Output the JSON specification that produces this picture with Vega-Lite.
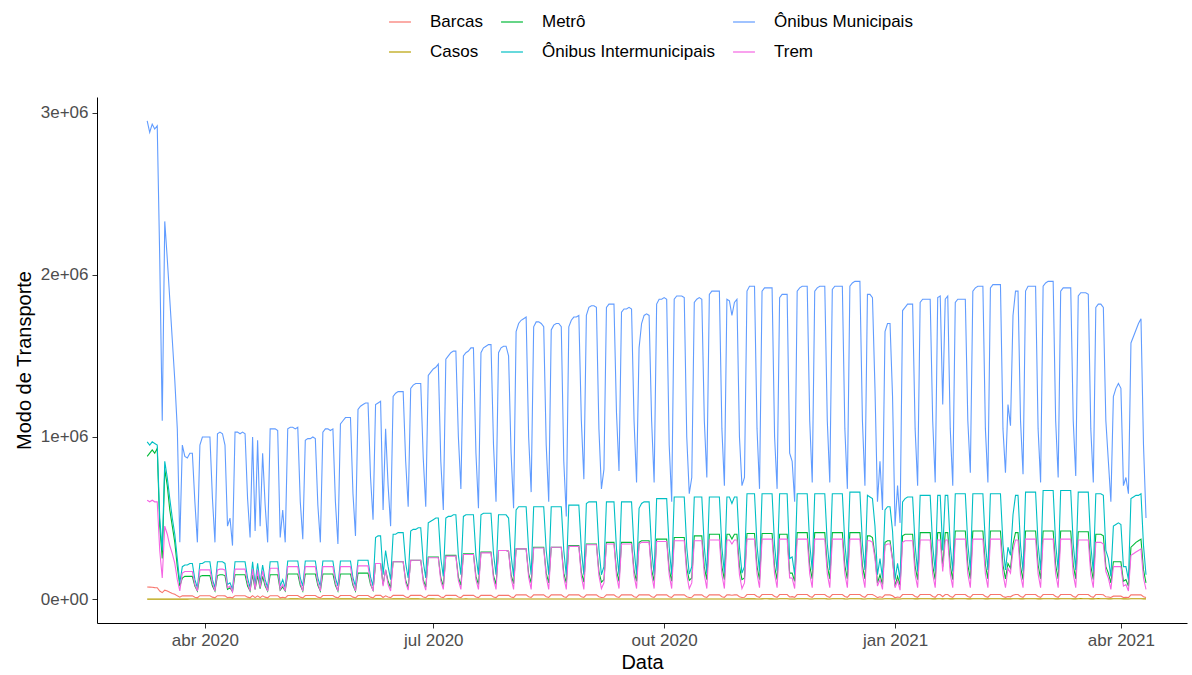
{
"$schema":"https://vega.github.io/schema/vega-lite/v6.json",
"width":1090,"height":526,
"autosize":{"type":"none"},
"padding":{"left":97,"top":97,"right":5,"bottom":52},
"background":"white",
"config":{"font":"Liberation Sans","view":{"stroke":null}},
"data":{"values":[
{"d":"2020-03-09","b":7.5e4,"c":0,"m":8.8e5,"i":9.7e5,"o":2.95e6,"t":6.1e5},
{"d":"2020-03-10","b":7.4e4,"c":0,"m":9.0e5,"i":9.5e5,"o":2.88e6,"t":6.0e5},
{"d":"2020-03-11","b":7.3e4,"c":2,"m":9.2e5,"i":9.7e5,"o":2.93e6,"t":6.1e5},
{"d":"2020-03-12","b":7.1e4,"c":3,"m":9.0e5,"i":9.6e5,"o":2.9e6,"t":6.0e5},
{"d":"2020-03-13","b":7.0e4,"c":5,"m":9.3e5,"i":9.5e5,"o":2.92e6,"t":6.0e5},
{"d":"2020-03-14","b":5.0e4,"c":8,"m":4.5e5,"i":5.0e5,"o":2.1e6,"t":3.0e5},
{"d":"2020-03-15","b":4.0e4,"c":10,"m":2.5e5,"i":3.0e5,"o":1.1e6,"t":1.3e5},
{"d":"2020-03-16","b":5.5e4,"c":15,"m":8.0e5,"i":8.5e5,"o":2.33e6,"t":4.5e5},
{"d":"2020-03-17","b":5.0e4,"c":20,"m":7.0e5,"i":7.5e5,"o":2.1e6,"t":4.0e5},
{"d":"2020-03-18","b":4.2e4,"c":30,"m":5.5e5,"i":6.2e5,"o":1.85e6,"t":3.3e5},
{"d":"2020-03-19","b":3.5e4,"c":40,"m":4.5e5,"i":5.0e5,"o":1.6e6,"t":2.8e5},
{"d":"2020-03-20","b":3.0e4,"c":50,"m":3.5e5,"i":4.0e5,"o":1.35e6,"t":2.2e5},
{"d":"2020-03-21","b":2.0e4,"c":60,"m":2.0e5,"i":2.5e5,"o":1.05e6,"t":1.2e5},
{"d":"2020-03-22","b":1.2e4,"c":70,"m":8e4,"i":1.0e5,"o":3.5e5,"t":5e4},
{"d":"2020-03-23","b":2.0e4,"c":80,"m":1.3e5,"i":2.0e5,"o":9.5e5,"t":1.6e5},
{"d":"2020-03-24","b":2.0e4,"c":90,"m":1.4e5,"i":2.1e5,"o":8.8e5,"t":1.7e5},
{"d":"2020-03-25","b":2.0e4,"c":100,"m":1.4e5,"i":2.1e5,"o":8.7e5,"t":1.7e5},
{"d":"2020-03-26","b":2.0e4,"c":120,"m":1.4e5,"i":2.2e5,"o":9.0e5,"t":1.7e5},
{"d":"2020-03-27","b":2.0e4,"c":130,"m":1.4e5,"i":2.2e5,"o":9.0e5,"t":1.7e5},
{"d":"2020-03-28","b":1.1e4,"c":150,"m":8e4,"i":1.2e5,"o":6.0e5,"t":9e4},
{"d":"2020-03-29","b":8e3,"c":160,"m":5e4,"i":7e4,"o":3.5e5,"t":5e4},
{"d":"2020-03-30","b":2.1e4,"c":180,"m":1.4e5,"i":2.2e5,"o":9.5e5,"t":1.8e5},
{"d":"2020-03-31","b":2.1e4,"c":200,"m":1.45e5,"i":2.2e5,"o":1.0e6,"t":1.8e5},
{"d":"2020-04-01","b":2.1e4,"c":220,"m":1.45e5,"i":2.3e5,"o":1.0e6,"t":1.8e5},
{"d":"2020-04-02","b":2.1e4,"c":250,"m":1.45e5,"i":2.3e5,"o":1.0e6,"t":1.8e5},
{"d":"2020-04-03","b":2.1e4,"c":270,"m":1.45e5,"i":2.3e5,"o":1.0e6,"t":1.8e5},
{"d":"2020-04-04","b":1.2e4,"c":300,"m":8e4,"i":1.2e5,"o":6.2e5,"t":1.0e5},
{"d":"2020-04-05","b":8e3,"c":320,"m":5e4,"i":7e4,"o":3.5e5,"t":5e4},
{"d":"2020-04-06","b":2.1e4,"c":350,"m":1.45e5,"i":2.3e5,"o":1.02e6,"t":1.8e5},
{"d":"2020-04-07","b":2.1e4,"c":380,"m":1.5e5,"i":2.3e5,"o":1.03e6,"t":1.85e5},
{"d":"2020-04-08","b":2.1e4,"c":400,"m":1.5e5,"i":2.3e5,"o":1.02e6,"t":1.85e5},
{"d":"2020-04-09","b":2.0e4,"c":420,"m":1.45e5,"i":2.2e5,"o":9.5e5,"t":1.8e5},
{"d":"2020-04-10","b":9e3,"c":450,"m":6e4,"i":9e4,"o":4.5e5,"t":7e4},
{"d":"2020-04-11","b":1.1e4,"c":470,"m":7e4,"i":1.0e5,"o":5.0e5,"t":8e4},
{"d":"2020-04-12","b":8e3,"c":480,"m":4.5e4,"i":6e4,"o":3.3e5,"t":4.5e4},
{"d":"2020-04-13","b":2.1e4,"c":500,"m":1.5e5,"i":2.3e5,"o":1.03e6,"t":1.85e5},
{"d":"2020-04-14","b":2.1e4,"c":520,"m":1.5e5,"i":2.3e5,"o":1.03e6,"t":1.85e5},
{"d":"2020-04-15","b":2.1e4,"c":550,"m":1.5e5,"i":2.3e5,"o":1.02e6,"t":1.85e5},
{"d":"2020-04-16","b":2.1e4,"c":580,"m":1.5e5,"i":2.3e5,"o":1.03e6,"t":1.85e5},
{"d":"2020-04-17","b":2.1e4,"c":600,"m":1.5e5,"i":2.3e5,"o":1.02e6,"t":1.85e5},
{"d":"2020-04-18","b":1.2e4,"c":620,"m":8e4,"i":1.3e5,"o":6.2e5,"t":1.0e5},
{"d":"2020-04-19","b":8e3,"c":640,"m":5e4,"i":7e4,"o":3.8e5,"t":5e4},
{"d":"2020-04-20","b":2.1e4,"c":660,"m":1.5e5,"i":2.3e5,"o":1.0e6,"t":1.85e5},
{"d":"2020-04-21","b":9e3,"c":680,"m":6e4,"i":9e4,"o":4.2e5,"t":6e4},
{"d":"2020-04-22","b":2.0e4,"c":700,"m":1.45e5,"i":2.2e5,"o":9.8e5,"t":1.8e5},
{"d":"2020-04-23","b":9e3,"c":720,"m":6.5e4,"i":1.0e5,"o":4.5e5,"t":7e4},
{"d":"2020-04-24","b":2.0e4,"c":740,"m":1.4e5,"i":2.1e5,"o":9.0e5,"t":1.75e5},
{"d":"2020-04-25","b":1.2e4,"c":760,"m":8e4,"i":1.2e5,"o":5.8e5,"t":9.5e4},
{"d":"2020-04-26","b":8e3,"c":780,"m":5e4,"i":7e4,"o":3.5e5,"t":5e4},
{"d":"2020-04-27","b":2.1e4,"c":800,"m":1.5e5,"i":2.3e5,"o":1.05e6,"t":1.9e5},
{"d":"2020-04-28","b":2.1e4,"c":820,"m":1.5e5,"i":2.3e5,"o":1.05e6,"t":1.9e5},
{"d":"2020-04-29","b":2.1e4,"c":850,"m":1.5e5,"i":2.3e5,"o":1.05e6,"t":1.9e5},
{"d":"2020-04-30","b":2.1e4,"c":870,"m":1.5e5,"i":2.3e5,"o":1.04e6,"t":1.9e5},
{"d":"2020-05-01","b":8e3,"c":900,"m":5.5e4,"i":8e4,"o":3.8e5,"t":6e4},
{"d":"2020-05-02","b":1.1e4,"c":920,"m":7.5e4,"i":1.2e5,"o":5.5e5,"t":9e4},
{"d":"2020-05-03","b":8e3,"c":940,"m":5e4,"i":7e4,"o":3.5e5,"t":5e4},
{"d":"2020-05-04","b":2.2e4,"c":1000,"m":1.55e5,"i":2.35e5,"o":1.05e6,"t":2.0e5},
{"d":"2020-05-05","b":2.2e4,"c":1100,"m":1.55e5,"i":2.35e5,"o":1.06e6,"t":2.0e5},
{"d":"2020-05-06","b":2.2e4,"c":1200,"m":1.55e5,"i":2.35e5,"o":1.06e6,"t":2.0e5},
{"d":"2020-05-07","b":2.2e4,"c":1150,"m":1.55e5,"i":2.35e5,"o":1.05e6,"t":2.0e5},
{"d":"2020-05-08","b":2.2e4,"c":1250,"m":1.55e5,"i":2.35e5,"o":1.06e6,"t":2.0e5},
{"d":"2020-05-09","b":1.2e4,"c":700,"m":8.5e4,"i":1.3e5,"o":6.0e5,"t":1.0e5},
{"d":"2020-05-10","b":8e3,"c":600,"m":5e4,"i":8e4,"o":3.7e5,"t":5e4},
{"d":"2020-05-11","b":2.2e4,"c":1300,"m":1.55e5,"i":2.35e5,"o":9.8e5,"t":2.0e5},
{"d":"2020-05-12","b":2.2e4,"c":1350,"m":1.55e5,"i":2.35e5,"o":9.9e5,"t":2.0e5},
{"d":"2020-05-13","b":2.2e4,"c":1400,"m":1.55e5,"i":2.35e5,"o":9.9e5,"t":2.0e5},
{"d":"2020-05-14","b":2.2e4,"c":1300,"m":1.55e5,"i":2.35e5,"o":1.0e6,"t":2.0e5},
{"d":"2020-05-15","b":2.2e4,"c":1250,"m":1.55e5,"i":2.35e5,"o":9.9e5,"t":2.0e5},
{"d":"2020-05-16","b":1.2e4,"c":800,"m":8.5e4,"i":1.3e5,"o":5.8e5,"t":1.0e5},
{"d":"2020-05-17","b":8e3,"c":650,"m":5e4,"i":8e4,"o":3.5e5,"t":5e4},
{"d":"2020-05-18","b":2.2e4,"c":1400,"m":1.55e5,"i":2.35e5,"o":1.03e6,"t":2.0e5},
{"d":"2020-05-19","b":2.2e4,"c":1450,"m":1.55e5,"i":2.35e5,"o":1.05e6,"t":2.0e5},
{"d":"2020-05-20","b":2.2e4,"c":1500,"m":1.55e5,"i":2.35e5,"o":1.05e6,"t":2.0e5},
{"d":"2020-05-21","b":2.2e4,"c":1400,"m":1.55e5,"i":2.35e5,"o":1.04e6,"t":2.0e5},
{"d":"2020-05-22","b":2.2e4,"c":1350,"m":1.55e5,"i":2.35e5,"o":1.05e6,"t":2.0e5},
{"d":"2020-05-23","b":1.2e4,"c":800,"m":8.5e4,"i":1.3e5,"o":6.0e5,"t":1.0e5},
{"d":"2020-05-24","b":8e3,"c":700,"m":5e4,"i":8e4,"o":3.4e5,"t":5e4},
{"d":"2020-05-25","b":2.2e4,"c":1350,"m":1.55e5,"i":2.35e5,"o":1.08e6,"t":2.0e5},
{"d":"2020-05-26","b":2.2e4,"c":1300,"m":1.55e5,"i":2.35e5,"o":1.1e6,"t":2.0e5},
{"d":"2020-05-27","b":2.2e4,"c":1400,"m":1.55e5,"i":2.35e5,"o":1.12e6,"t":2.0e5},
{"d":"2020-05-28","b":2.2e4,"c":1300,"m":1.55e5,"i":2.35e5,"o":1.12e6,"t":2.0e5},
{"d":"2020-05-29","b":2.2e4,"c":1200,"m":1.55e5,"i":2.35e5,"o":1.12e6,"t":2.0e5},
{"d":"2020-05-30","b":1.2e4,"c":750,"m":8.5e4,"i":1.3e5,"o":6.5e5,"t":1.0e5},
{"d":"2020-05-31","b":8e3,"c":650,"m":5e4,"i":8e4,"o":3.9e5,"t":5e4},
{"d":"2020-06-01","b":2.2e4,"c":1300,"m":1.6e5,"i":2.4e5,"o":1.17e6,"t":2.05e5},
{"d":"2020-06-02","b":2.2e4,"c":1250,"m":1.6e5,"i":2.4e5,"o":1.19e6,"t":2.05e5},
{"d":"2020-06-03","b":2.2e4,"c":1300,"m":1.6e5,"i":2.4e5,"o":1.2e6,"t":2.05e5},
{"d":"2020-06-04","b":2.2e4,"c":1200,"m":1.6e5,"i":2.4e5,"o":1.21e6,"t":2.05e5},
{"d":"2020-06-05","b":2.2e4,"c":1100,"m":1.6e5,"i":2.4e5,"o":1.21e6,"t":2.05e5},
{"d":"2020-06-06","b":1.2e4,"c":700,"m":9e4,"i":1.35e5,"o":7.5e5,"t":1.0e5},
{"d":"2020-06-07","b":8e3,"c":600,"m":5.5e4,"i":8e4,"o":4.9e5,"t":5e4},
{"d":"2020-06-08","b":2.3e4,"c":1100,"m":2.2e5,"i":3.8e5,"o":1.2e6,"t":2.2e5},
{"d":"2020-06-09","b":2.3e4,"c":1150,"m":2.2e5,"i":3.9e5,"o":1.21e6,"t":2.2e5},
{"d":"2020-06-10","b":2.3e4,"c":1100,"m":2.2e5,"i":3.9e5,"o":1.22e6,"t":2.2e5},
{"d":"2020-06-11","b":1.0e4,"c":700,"m":9e4,"i":1.5e5,"o":5.5e5,"t":8e4},
{"d":"2020-06-12","b":2.0e4,"c":1000,"m":1.8e5,"i":3.0e5,"o":1.05e6,"t":1.8e5},
{"d":"2020-06-13","b":1.3e4,"c":650,"m":1.1e5,"i":2.0e5,"o":7.0e5,"t":9e4},
{"d":"2020-06-14","b":9e3,"c":550,"m":7e4,"i":1.2e5,"o":4.5e5,"t":5e4},
{"d":"2020-06-15","b":2.3e4,"c":1100,"m":2.3e5,"i":4.0e5,"o":1.25e6,"t":2.3e5},
{"d":"2020-06-16","b":2.3e4,"c":1150,"m":2.3e5,"i":4.0e5,"o":1.27e6,"t":2.3e5},
{"d":"2020-06-17","b":2.3e4,"c":1200,"m":2.3e5,"i":4.1e5,"o":1.28e6,"t":2.3e5},
{"d":"2020-06-18","b":2.3e4,"c":1100,"m":2.3e5,"i":4.1e5,"o":1.28e6,"t":2.3e5},
{"d":"2020-06-19","b":2.3e4,"c":1050,"m":2.3e5,"i":4.1e5,"o":1.28e6,"t":2.3e5},
{"d":"2020-06-20","b":1.3e4,"c":650,"m":1.15e5,"i":2.2e5,"o":8.5e5,"t":1.0e5},
{"d":"2020-06-21","b":9e3,"c":550,"m":7e4,"i":1.3e5,"o":5.7e5,"t":5.5e4},
{"d":"2020-06-22","b":2.3e4,"c":1100,"m":2.4e5,"i":4.2e5,"o":1.3e6,"t":2.4e5},
{"d":"2020-06-23","b":2.3e4,"c":1150,"m":2.4e5,"i":4.3e5,"o":1.32e6,"t":2.4e5},
{"d":"2020-06-24","b":2.3e4,"c":1100,"m":2.4e5,"i":4.3e5,"o":1.33e6,"t":2.4e5},
{"d":"2020-06-25","b":2.3e4,"c":1050,"m":2.4e5,"i":4.4e5,"o":1.33e6,"t":2.4e5},
{"d":"2020-06-26","b":2.3e4,"c":1000,"m":2.4e5,"i":4.4e5,"o":1.33e6,"t":2.4e5},
{"d":"2020-06-27","b":1.3e4,"c":600,"m":1.2e5,"i":2.3e5,"o":8.7e5,"t":1.05e5},
{"d":"2020-06-28","b":9e3,"c":500,"m":7.5e4,"i":1.3e5,"o":5.7e5,"t":5.5e4},
{"d":"2020-06-29","b":2.3e4,"c":1050,"m":2.6e5,"i":4.7e5,"o":1.38e6,"t":2.55e5},
{"d":"2020-06-30","b":2.3e4,"c":1100,"m":2.6e5,"i":4.8e5,"o":1.4e6,"t":2.55e5},
{"d":"2020-07-01","b":2.3e4,"c":1050,"m":2.6e5,"i":4.9e5,"o":1.42e6,"t":2.55e5},
{"d":"2020-07-02","b":2.3e4,"c":1000,"m":2.6e5,"i":5.0e5,"o":1.43e6,"t":2.55e5},
{"d":"2020-07-03","b":2.3e4,"c":950,"m":2.6e5,"i":5.0e5,"o":1.45e6,"t":2.55e5},
{"d":"2020-07-04","b":1.3e4,"c":600,"m":1.3e5,"i":2.5e5,"o":8.5e5,"t":1.1e5},
{"d":"2020-07-05","b":9e3,"c":500,"m":8e4,"i":1.4e5,"o":5.5e5,"t":6e4},
{"d":"2020-07-06","b":2.3e4,"c":1000,"m":2.7e5,"i":5.0e5,"o":1.48e6,"t":2.65e5},
{"d":"2020-07-07","b":2.3e4,"c":1050,"m":2.7e5,"i":5.1e5,"o":1.5e6,"t":2.65e5},
{"d":"2020-07-08","b":2.3e4,"c":1100,"m":2.7e5,"i":5.1e5,"o":1.52e6,"t":2.65e5},
{"d":"2020-07-09","b":2.3e4,"c":1000,"m":2.7e5,"i":5.2e5,"o":1.53e6,"t":2.65e5},
{"d":"2020-07-10","b":2.3e4,"c":950,"m":2.7e5,"i":5.2e5,"o":1.53e6,"t":2.65e5},
{"d":"2020-07-11","b":1.3e4,"c":600,"m":1.35e5,"i":2.7e5,"o":1.0e6,"t":1.15e5},
{"d":"2020-07-12","b":9e3,"c":500,"m":8.5e4,"i":1.5e5,"o":6.8e5,"t":6e4},
{"d":"2020-07-13","b":2.3e4,"c":1000,"m":2.8e5,"i":5.1e5,"o":1.5e6,"t":2.75e5},
{"d":"2020-07-14","b":2.3e4,"c":1050,"m":2.8e5,"i":5.2e5,"o":1.52e6,"t":2.75e5},
{"d":"2020-07-15","b":2.3e4,"c":1000,"m":2.8e5,"i":5.2e5,"o":1.53e6,"t":2.75e5},
{"d":"2020-07-16","b":2.3e4,"c":950,"m":2.8e5,"i":5.2e5,"o":1.55e6,"t":2.75e5},
{"d":"2020-07-17","b":2.3e4,"c":900,"m":2.8e5,"i":5.2e5,"o":1.55e6,"t":2.75e5},
{"d":"2020-07-18","b":1.3e4,"c":550,"m":1.4e5,"i":2.7e5,"o":9.0e5,"t":1.2e5},
{"d":"2020-07-19","b":9e3,"c":450,"m":9e4,"i":1.5e5,"o":5.6e5,"t":6e4},
{"d":"2020-07-20","b":2.3e4,"c":950,"m":2.9e5,"i":5.2e5,"o":1.52e6,"t":2.85e5},
{"d":"2020-07-21","b":2.3e4,"c":1000,"m":2.9e5,"i":5.3e5,"o":1.55e6,"t":2.85e5},
{"d":"2020-07-22","b":2.3e4,"c":1000,"m":2.9e5,"i":5.3e5,"o":1.56e6,"t":2.85e5},
{"d":"2020-07-23","b":2.3e4,"c":950,"m":2.9e5,"i":5.3e5,"o":1.57e6,"t":2.85e5},
{"d":"2020-07-24","b":2.3e4,"c":900,"m":2.9e5,"i":5.3e5,"o":1.57e6,"t":2.85e5},
{"d":"2020-07-25","b":1.3e4,"c":550,"m":1.45e5,"i":2.8e5,"o":9.5e5,"t":1.25e5},
{"d":"2020-07-26","b":9e3,"c":450,"m":9e4,"i":1.5e5,"o":6.0e5,"t":6e4},
{"d":"2020-07-27","b":2.3e4,"c":950,"m":3.0e5,"i":5.2e5,"o":1.52e6,"t":3.0e5},
{"d":"2020-07-28","b":2.3e4,"c":1000,"m":3.0e5,"i":5.2e5,"o":1.55e6,"t":3.0e5},
{"d":"2020-07-29","b":2.3e4,"c":950,"m":3.0e5,"i":5.2e5,"o":1.56e6,"t":3.0e5},
{"d":"2020-07-30","b":2.3e4,"c":900,"m":3.0e5,"i":5.2e5,"o":1.56e6,"t":3.0e5},
{"d":"2020-07-31","b":2.3e4,"c":900,"m":2.95e5,"i":5.0e5,"o":1.5e6,"t":2.95e5},
{"d":"2020-08-01","b":1.3e4,"c":550,"m":1.5e5,"i":2.7e5,"o":9.0e5,"t":1.3e5},
{"d":"2020-08-02","b":9e3,"c":450,"m":9.5e4,"i":1.4e5,"o":5.6e5,"t":6e4},
{"d":"2020-08-03","b":2.6e4,"c":950,"m":3.1e5,"i":5.5e5,"o":1.65e6,"t":3.1e5},
{"d":"2020-08-04","b":2.6e4,"c":1000,"m":3.1e5,"i":5.7e5,"o":1.7e6,"t":3.1e5},
{"d":"2020-08-05","b":2.6e4,"c":1000,"m":3.1e5,"i":5.7e5,"o":1.72e6,"t":3.1e5},
{"d":"2020-08-06","b":2.6e4,"c":950,"m":3.1e5,"i":5.7e5,"o":1.73e6,"t":3.1e5},
{"d":"2020-08-07","b":2.6e4,"c":900,"m":3.1e5,"i":5.7e5,"o":1.74e6,"t":3.1e5},
{"d":"2020-08-08","b":1.5e4,"c":550,"m":1.55e5,"i":3.0e5,"o":1.0e6,"t":1.35e5},
{"d":"2020-08-09","b":1.0e4,"c":450,"m":1.0e5,"i":1.5e5,"o":6.6e5,"t":6e4},
{"d":"2020-08-10","b":2.6e4,"c":950,"m":3.2e5,"i":5.7e5,"o":1.68e6,"t":3.15e5},
{"d":"2020-08-11","b":2.6e4,"c":1000,"m":3.2e5,"i":5.7e5,"o":1.71e6,"t":3.15e5},
{"d":"2020-08-12","b":2.6e4,"c":950,"m":3.2e5,"i":5.7e5,"o":1.71e6,"t":3.15e5},
{"d":"2020-08-13","b":2.6e4,"c":900,"m":3.2e5,"i":5.7e5,"o":1.7e6,"t":3.15e5},
{"d":"2020-08-14","b":2.6e4,"c":900,"m":3.2e5,"i":5.7e5,"o":1.68e6,"t":3.15e5},
{"d":"2020-08-15","b":1.5e4,"c":500,"m":1.6e5,"i":3.0e5,"o":9.5e5,"t":1.35e5},
{"d":"2020-08-16","b":1.0e4,"c":450,"m":1.0e5,"i":1.5e5,"o":6.0e5,"t":6e4},
{"d":"2020-08-17","b":2.6e4,"c":900,"m":3.2e5,"i":5.7e5,"o":1.66e6,"t":3.2e5},
{"d":"2020-08-18","b":2.6e4,"c":950,"m":3.2e5,"i":5.7e5,"o":1.69e6,"t":3.2e5},
{"d":"2020-08-19","b":2.6e4,"c":950,"m":3.2e5,"i":5.7e5,"o":1.7e6,"t":3.2e5},
{"d":"2020-08-20","b":2.6e4,"c":900,"m":3.2e5,"i":5.7e5,"o":1.7e6,"t":3.2e5},
{"d":"2020-08-21","b":2.6e4,"c":850,"m":3.2e5,"i":5.7e5,"o":1.68e6,"t":3.2e5},
{"d":"2020-08-22","b":1.5e4,"c":500,"m":1.6e5,"i":3.0e5,"o":8.5e5,"t":1.35e5},
{"d":"2020-08-23","b":1.0e4,"c":400,"m":1.0e5,"i":1.45e5,"o":5.1e5,"t":6e4},
{"d":"2020-08-24","b":2.6e4,"c":900,"m":3.3e5,"i":5.8e5,"o":1.68e6,"t":3.25e5},
{"d":"2020-08-25","b":2.6e4,"c":950,"m":3.3e5,"i":5.8e5,"o":1.72e6,"t":3.25e5},
{"d":"2020-08-26","b":2.6e4,"c":900,"m":3.3e5,"i":5.8e5,"o":1.74e6,"t":3.25e5},
{"d":"2020-08-27","b":2.6e4,"c":900,"m":3.3e5,"i":5.8e5,"o":1.74e6,"t":3.25e5},
{"d":"2020-08-28","b":2.6e4,"c":850,"m":3.3e5,"i":5.8e5,"o":1.75e6,"t":3.25e5},
{"d":"2020-08-29","b":1.5e4,"c":500,"m":1.65e5,"i":3.05e5,"o":1.1e6,"t":1.4e5},
{"d":"2020-08-30","b":1.0e4,"c":400,"m":1.05e5,"i":1.5e5,"o":7.4e5,"t":6e4},
{"d":"2020-08-31","b":2.6e4,"c":900,"m":3.4e5,"i":5.9e5,"o":1.75e6,"t":3.35e5},
{"d":"2020-09-01","b":2.6e4,"c":950,"m":3.4e5,"i":6.0e5,"o":1.8e6,"t":3.35e5},
{"d":"2020-09-02","b":2.6e4,"c":900,"m":3.4e5,"i":6.0e5,"o":1.81e6,"t":3.35e5},
{"d":"2020-09-03","b":2.6e4,"c":900,"m":3.4e5,"i":6.0e5,"o":1.81e6,"t":3.35e5},
{"d":"2020-09-04","b":2.6e4,"c":850,"m":3.4e5,"i":6.0e5,"o":1.8e6,"t":3.35e5},
{"d":"2020-09-05","b":1.5e4,"c":500,"m":1.7e5,"i":3.1e5,"o":1.05e6,"t":1.45e5},
{"d":"2020-09-06","b":1.0e4,"c":400,"m":1.05e5,"i":1.5e5,"o":6.8e5,"t":6.5e4},
{"d":"2020-09-07","b":1.1e4,"c":450,"m":1.2e5,"i":2.0e5,"o":8.0e5,"t":1.0e5},
{"d":"2020-09-08","b":2.6e4,"c":950,"m":3.5e5,"i":6.0e5,"o":1.8e6,"t":3.4e5},
{"d":"2020-09-09","b":2.6e4,"c":900,"m":3.5e5,"i":6.0e5,"o":1.82e6,"t":3.4e5},
{"d":"2020-09-10","b":2.6e4,"c":900,"m":3.5e5,"i":6.0e5,"o":1.82e6,"t":3.4e5},
{"d":"2020-09-11","b":2.6e4,"c":850,"m":3.5e5,"i":6.0e5,"o":1.82e6,"t":3.4e5},
{"d":"2020-09-12","b":1.5e4,"c":500,"m":1.75e5,"i":3.1e5,"o":1.15e6,"t":1.45e5},
{"d":"2020-09-13","b":1.0e4,"c":400,"m":1.1e5,"i":1.5e5,"o":7.9e5,"t":6.5e4},
{"d":"2020-09-14","b":2.6e4,"c":900,"m":3.5e5,"i":6.0e5,"o":1.77e6,"t":3.4e5},
{"d":"2020-09-15","b":2.6e4,"c":950,"m":3.5e5,"i":6.0e5,"o":1.79e6,"t":3.4e5},
{"d":"2020-09-16","b":2.6e4,"c":900,"m":3.5e5,"i":6.0e5,"o":1.79e6,"t":3.4e5},
{"d":"2020-09-17","b":2.6e4,"c":900,"m":3.5e5,"i":6.0e5,"o":1.8e6,"t":3.4e5},
{"d":"2020-09-18","b":2.6e4,"c":850,"m":3.5e5,"i":6.0e5,"o":1.79e6,"t":3.4e5},
{"d":"2020-09-19","b":1.5e4,"c":500,"m":1.75e5,"i":3.1e5,"o":1.1e6,"t":1.45e5},
{"d":"2020-09-20","b":1.0e4,"c":400,"m":1.1e5,"i":1.5e5,"o":7.2e5,"t":6.5e4},
{"d":"2020-09-21","b":2.6e4,"c":900,"m":3.5e5,"i":5.6e5,"o":1.55e6,"t":3.4e5},
{"d":"2020-09-22","b":2.6e4,"c":950,"m":3.6e5,"i":5.9e5,"o":1.7e6,"t":3.5e5},
{"d":"2020-09-23","b":2.6e4,"c":900,"m":3.6e5,"i":6.0e5,"o":1.75e6,"t":3.5e5},
{"d":"2020-09-24","b":2.6e4,"c":900,"m":3.6e5,"i":6.0e5,"o":1.76e6,"t":3.5e5},
{"d":"2020-09-25","b":2.6e4,"c":850,"m":3.6e5,"i":6.0e5,"o":1.75e6,"t":3.5e5},
{"d":"2020-09-26","b":1.5e4,"c":500,"m":1.8e5,"i":3.1e5,"o":1.1e6,"t":1.5e5},
{"d":"2020-09-27","b":1.0e4,"c":400,"m":1.1e5,"i":1.5e5,"o":7.2e5,"t":6.5e4},
{"d":"2020-09-28","b":2.6e4,"c":900,"m":3.7e5,"i":6.2e5,"o":1.82e6,"t":3.55e5},
{"d":"2020-09-29","b":2.6e4,"c":950,"m":3.7e5,"i":6.2e5,"o":1.85e6,"t":3.55e5},
{"d":"2020-09-30","b":2.6e4,"c":900,"m":3.7e5,"i":6.2e5,"o":1.85e6,"t":3.55e5},
{"d":"2020-10-01","b":2.6e4,"c":900,"m":3.7e5,"i":6.2e5,"o":1.86e6,"t":3.55e5},
{"d":"2020-10-02","b":2.6e4,"c":850,"m":3.7e5,"i":6.2e5,"o":1.85e6,"t":3.55e5},
{"d":"2020-10-03","b":1.5e4,"c":500,"m":1.85e5,"i":3.2e5,"o":9.5e5,"t":1.5e5},
{"d":"2020-10-04","b":1.0e4,"c":400,"m":1.1e5,"i":1.5e5,"o":6.0e5,"t":6.5e4},
{"d":"2020-10-05","b":2.6e4,"c":900,"m":3.8e5,"i":6.3e5,"o":1.85e6,"t":3.6e5},
{"d":"2020-10-06","b":2.6e4,"c":950,"m":3.8e5,"i":6.3e5,"o":1.87e6,"t":3.6e5},
{"d":"2020-10-07","b":2.6e4,"c":900,"m":3.8e5,"i":6.3e5,"o":1.87e6,"t":3.6e5},
{"d":"2020-10-08","b":2.6e4,"c":900,"m":3.8e5,"i":6.3e5,"o":1.87e6,"t":3.6e5},
{"d":"2020-10-09","b":2.6e4,"c":850,"m":3.8e5,"i":6.3e5,"o":1.86e6,"t":3.6e5},
{"d":"2020-10-10","b":1.5e4,"c":500,"m":1.9e5,"i":3.2e5,"o":1.0e6,"t":1.5e5},
{"d":"2020-10-11","b":1.0e4,"c":400,"m":1.15e5,"i":1.55e5,"o":6.5e5,"t":6.5e4},
{"d":"2020-10-12","b":1.1e4,"c":450,"m":1.3e5,"i":2.0e5,"o":7.5e5,"t":1.0e5},
{"d":"2020-10-13","b":2.6e4,"c":950,"m":3.9e5,"i":6.3e5,"o":1.83e6,"t":3.6e5},
{"d":"2020-10-14","b":2.6e4,"c":900,"m":3.9e5,"i":6.3e5,"o":1.85e6,"t":3.6e5},
{"d":"2020-10-15","b":2.6e4,"c":900,"m":3.9e5,"i":6.3e5,"o":1.86e6,"t":3.6e5},
{"d":"2020-10-16","b":2.6e4,"c":850,"m":3.9e5,"i":6.3e5,"o":1.85e6,"t":3.6e5},
{"d":"2020-10-17","b":1.5e4,"c":500,"m":1.95e5,"i":3.2e5,"o":1.1e6,"t":1.5e5},
{"d":"2020-10-18","b":1.0e4,"c":400,"m":1.2e5,"i":1.6e5,"o":7.5e5,"t":6.5e4},
{"d":"2020-10-19","b":2.6e4,"c":900,"m":4.0e5,"i":6.3e5,"o":1.88e6,"t":3.65e5},
{"d":"2020-10-20","b":2.6e4,"c":950,"m":4.0e5,"i":6.3e5,"o":1.9e6,"t":3.65e5},
{"d":"2020-10-21","b":2.6e4,"c":900,"m":4.0e5,"i":6.3e5,"o":1.9e6,"t":3.65e5},
{"d":"2020-10-22","b":2.6e4,"c":900,"m":4.0e5,"i":6.3e5,"o":1.9e6,"t":3.65e5},
{"d":"2020-10-23","b":2.6e4,"c":850,"m":4.0e5,"i":6.3e5,"o":1.9e6,"t":3.65e5},
{"d":"2020-10-24","b":1.5e4,"c":500,"m":2.0e5,"i":3.2e5,"o":1.05e6,"t":1.5e5},
{"d":"2020-10-25","b":1.0e4,"c":400,"m":1.2e5,"i":1.6e5,"o":7.0e5,"t":6.5e4},
{"d":"2020-10-26","b":2.6e4,"c":900,"m":4.0e5,"i":6.3e5,"o":1.85e6,"t":3.65e5},
{"d":"2020-10-27","b":2.6e4,"c":950,"m":4.0e5,"i":6.3e5,"o":1.84e6,"t":3.65e5},
{"d":"2020-10-28","b":2.4e4,"c":900,"m":3.7e5,"i":5.9e5,"o":1.75e6,"t":3.4e5},
{"d":"2020-10-29","b":2.6e4,"c":900,"m":4.0e5,"i":6.3e5,"o":1.83e6,"t":3.65e5},
{"d":"2020-10-30","b":2.6e4,"c":850,"m":4.0e5,"i":6.3e5,"o":1.85e6,"t":3.65e5},
{"d":"2020-10-31","b":1.5e4,"c":500,"m":2.0e5,"i":3.2e5,"o":1.0e6,"t":1.5e5},
{"d":"2020-11-01","b":1.0e4,"c":400,"m":1.2e5,"i":1.6e5,"o":7.0e5,"t":6.5e4},
{"d":"2020-11-02","b":1.1e4,"c":600,"m":1.3e5,"i":2.0e5,"o":7.5e5,"t":1.0e5},
{"d":"2020-11-03","b":2.8e4,"c":1500,"m":4.05e5,"i":6.5e5,"o":1.9e6,"t":3.7e5},
{"d":"2020-11-04","b":2.8e4,"c":1600,"m":4.05e5,"i":6.5e5,"o":1.93e6,"t":3.7e5},
{"d":"2020-11-05","b":2.8e4,"c":1550,"m":4.05e5,"i":6.5e5,"o":1.93e6,"t":3.7e5},
{"d":"2020-11-06","b":2.8e4,"c":1500,"m":4.05e5,"i":6.5e5,"o":1.93e6,"t":3.7e5},
{"d":"2020-11-07","b":1.6e4,"c":900,"m":2.0e5,"i":3.3e5,"o":1.05e6,"t":1.55e5},
{"d":"2020-11-08","b":1.1e4,"c":800,"m":1.2e5,"i":1.7e5,"o":6.8e5,"t":7e4},
{"d":"2020-11-09","b":2.8e4,"c":1600,"m":4.05e5,"i":6.5e5,"o":1.9e6,"t":3.7e5},
{"d":"2020-11-10","b":2.8e4,"c":1700,"m":4.05e5,"i":6.5e5,"o":1.92e6,"t":3.7e5},
{"d":"2020-11-11","b":2.8e4,"c":1650,"m":4.05e5,"i":6.5e5,"o":1.92e6,"t":3.7e5},
{"d":"2020-11-12","b":2.8e4,"c":1600,"m":4.05e5,"i":6.5e5,"o":1.92e6,"t":3.7e5},
{"d":"2020-11-13","b":2.8e4,"c":1550,"m":4.05e5,"i":6.5e5,"o":1.92e6,"t":3.7e5},
{"d":"2020-11-14","b":1.6e4,"c":900,"m":2.0e5,"i":3.3e5,"o":1.0e6,"t":1.55e5},
{"d":"2020-11-15","b":1.1e4,"c":800,"m":1.2e5,"i":1.7e5,"o":6.8e5,"t":7e4},
{"d":"2020-11-16","b":2.8e4,"c":1700,"m":4.0e5,"i":6.5e5,"o":1.86e6,"t":3.7e5},
{"d":"2020-11-17","b":2.8e4,"c":1800,"m":4.0e5,"i":6.5e5,"o":1.88e6,"t":3.7e5},
{"d":"2020-11-18","b":2.8e4,"c":1750,"m":4.0e5,"i":6.5e5,"o":1.88e6,"t":3.7e5},
{"d":"2020-11-19","b":2.8e4,"c":1700,"m":4.0e5,"i":6.5e5,"o":1.88e6,"t":3.7e5},
{"d":"2020-11-20","b":1.3e4,"c":1000,"m":1.6e5,"i":2.5e5,"o":9.0e5,"t":1.3e5},
{"d":"2020-11-21","b":1.5e4,"c":900,"m":1.6e5,"i":2.6e5,"o":8.5e5,"t":1.3e5},
{"d":"2020-11-22","b":1.1e4,"c":800,"m":1.1e5,"i":1.5e5,"o":6.0e5,"t":6.5e4},
{"d":"2020-11-23","b":2.8e4,"c":1800,"m":4.1e5,"i":6.5e5,"o":1.9e6,"t":3.7e5},
{"d":"2020-11-24","b":2.8e4,"c":1900,"m":4.1e5,"i":6.5e5,"o":1.92e6,"t":3.7e5},
{"d":"2020-11-25","b":2.8e4,"c":1850,"m":4.1e5,"i":6.5e5,"o":1.93e6,"t":3.7e5},
{"d":"2020-11-26","b":2.8e4,"c":1800,"m":4.1e5,"i":6.5e5,"o":1.93e6,"t":3.7e5},
{"d":"2020-11-27","b":2.8e4,"c":1750,"m":4.1e5,"i":6.5e5,"o":1.93e6,"t":3.7e5},
{"d":"2020-11-28","b":1.6e4,"c":1000,"m":2.05e5,"i":3.4e5,"o":1.1e6,"t":1.55e5},
{"d":"2020-11-29","b":1.1e4,"c":900,"m":1.25e5,"i":1.8e5,"o":7.2e5,"t":7e4},
{"d":"2020-11-30","b":2.8e4,"c":1900,"m":4.1e5,"i":6.5e5,"o":1.9e6,"t":3.7e5},
{"d":"2020-12-01","b":2.8e4,"c":2000,"m":4.1e5,"i":6.5e5,"o":1.92e6,"t":3.7e5},
{"d":"2020-12-02","b":2.8e4,"c":1950,"m":4.1e5,"i":6.5e5,"o":1.93e6,"t":3.7e5},
{"d":"2020-12-03","b":2.8e4,"c":1900,"m":4.1e5,"i":6.5e5,"o":1.93e6,"t":3.7e5},
{"d":"2020-12-04","b":2.8e4,"c":1850,"m":4.1e5,"i":6.5e5,"o":1.93e6,"t":3.7e5},
{"d":"2020-12-05","b":1.6e4,"c":1100,"m":2.05e5,"i":3.4e5,"o":1.1e6,"t":1.55e5},
{"d":"2020-12-06","b":1.1e4,"c":950,"m":1.25e5,"i":1.8e5,"o":7.2e5,"t":7e4},
{"d":"2020-12-07","b":2.8e4,"c":2000,"m":4.1e5,"i":6.5e5,"o":1.91e6,"t":3.7e5},
{"d":"2020-12-08","b":2.8e4,"c":2100,"m":4.1e5,"i":6.5e5,"o":1.93e6,"t":3.7e5},
{"d":"2020-12-09","b":2.8e4,"c":2050,"m":4.1e5,"i":6.5e5,"o":1.93e6,"t":3.7e5},
{"d":"2020-12-10","b":2.8e4,"c":2000,"m":4.1e5,"i":6.5e5,"o":1.93e6,"t":3.7e5},
{"d":"2020-12-11","b":2.8e4,"c":1950,"m":4.1e5,"i":6.5e5,"o":1.93e6,"t":3.7e5},
{"d":"2020-12-12","b":1.6e4,"c":1100,"m":2.05e5,"i":3.4e5,"o":1.05e6,"t":1.55e5},
{"d":"2020-12-13","b":1.1e4,"c":950,"m":1.25e5,"i":1.8e5,"o":6.8e5,"t":7e4},
{"d":"2020-12-14","b":2.8e4,"c":2000,"m":4.1e5,"i":6.6e5,"o":1.93e6,"t":3.7e5},
{"d":"2020-12-15","b":2.8e4,"c":2100,"m":4.1e5,"i":6.6e5,"o":1.95e6,"t":3.7e5},
{"d":"2020-12-16","b":2.8e4,"c":2050,"m":4.1e5,"i":6.6e5,"o":1.96e6,"t":3.7e5},
{"d":"2020-12-17","b":2.8e4,"c":2000,"m":4.1e5,"i":6.6e5,"o":1.96e6,"t":3.7e5},
{"d":"2020-12-18","b":2.8e4,"c":1950,"m":4.1e5,"i":6.6e5,"o":1.96e6,"t":3.7e5},
{"d":"2020-12-19","b":1.6e4,"c":1100,"m":2.05e5,"i":3.4e5,"o":1.1e6,"t":1.55e5},
{"d":"2020-12-20","b":1.1e4,"c":950,"m":1.25e5,"i":1.8e5,"o":7.0e5,"t":7e4},
{"d":"2020-12-21","b":2.8e4,"c":1900,"m":3.9e5,"i":6.4e5,"o":1.88e6,"t":3.6e5},
{"d":"2020-12-22","b":2.8e4,"c":1950,"m":3.9e5,"i":6.3e5,"o":1.88e6,"t":3.6e5},
{"d":"2020-12-23","b":2.8e4,"c":1900,"m":3.8e5,"i":6.2e5,"o":1.86e6,"t":3.5e5},
{"d":"2020-12-24","b":2.0e4,"c":1500,"m":2.7e5,"i":4.5e5,"o":1.3e6,"t":2.5e5},
{"d":"2020-12-25","b":9e3,"c":800,"m":1.0e5,"i":1.5e5,"o":6.0e5,"t":8e4},
{"d":"2020-12-26","b":1.4e4,"c":900,"m":1.5e5,"i":2.5e5,"o":8.5e5,"t":1.2e5},
{"d":"2020-12-27","b":1.0e4,"c":800,"m":9e4,"i":1.3e5,"o":5.5e5,"t":6e4},
{"d":"2020-12-28","b":2.6e4,"c":1800,"m":3.5e5,"i":5.5e5,"o":1.65e6,"t":3.3e5},
{"d":"2020-12-29","b":2.6e4,"c":1900,"m":3.6e5,"i":5.7e5,"o":1.7e6,"t":3.4e5},
{"d":"2020-12-30","b":2.6e4,"c":1850,"m":3.6e5,"i":5.7e5,"o":1.7e6,"t":3.4e5},
{"d":"2020-12-31","b":2.0e4,"c":1500,"m":2.5e5,"i":4.2e5,"o":1.25e6,"t":2.4e5},
{"d":"2021-01-01","b":8e3,"c":700,"m":8e4,"i":1.2e5,"o":4.5e5,"t":7e4},
{"d":"2021-01-02","b":1.3e4,"c":900,"m":1.4e5,"i":2.2e5,"o":7.0e5,"t":1.15e5},
{"d":"2021-01-03","b":1.0e4,"c":800,"m":8.5e4,"i":1.2e5,"o":4.7e5,"t":5.5e4},
{"d":"2021-01-04","b":2.8e4,"c":2100,"m":3.9e5,"i":6.0e5,"o":1.78e6,"t":3.5e5},
{"d":"2021-01-05","b":2.8e4,"c":2300,"m":4.0e5,"i":6.2e5,"o":1.8e6,"t":3.6e5},
{"d":"2021-01-06","b":2.8e4,"c":2250,"m":4.0e5,"i":6.3e5,"o":1.82e6,"t":3.6e5},
{"d":"2021-01-07","b":2.8e4,"c":2200,"m":4.0e5,"i":6.3e5,"o":1.82e6,"t":3.6e5},
{"d":"2021-01-08","b":2.8e4,"c":2150,"m":4.0e5,"i":6.3e5,"o":1.82e6,"t":3.6e5},
{"d":"2021-01-09","b":1.6e4,"c":1200,"m":2.0e5,"i":3.3e5,"o":1.05e6,"t":1.5e5},
{"d":"2021-01-10","b":1.1e4,"c":1100,"m":1.2e5,"i":1.7e5,"o":7.0e5,"t":7e4},
{"d":"2021-01-11","b":2.8e4,"c":2200,"m":4.1e5,"i":6.4e5,"o":1.83e6,"t":3.65e5},
{"d":"2021-01-12","b":2.8e4,"c":2400,"m":4.1e5,"i":6.4e5,"o":1.85e6,"t":3.65e5},
{"d":"2021-01-13","b":2.8e4,"c":2350,"m":4.1e5,"i":6.4e5,"o":1.85e6,"t":3.65e5},
{"d":"2021-01-14","b":2.8e4,"c":2300,"m":4.1e5,"i":6.4e5,"o":1.85e6,"t":3.65e5},
{"d":"2021-01-15","b":2.8e4,"c":2250,"m":4.1e5,"i":6.4e5,"o":1.85e6,"t":3.65e5},
{"d":"2021-01-16","b":1.6e4,"c":1300,"m":2.05e5,"i":3.3e5,"o":1.1e6,"t":1.55e5},
{"d":"2021-01-17","b":1.1e4,"c":1100,"m":1.2e5,"i":1.7e5,"o":7.2e5,"t":7e4},
{"d":"2021-01-18","b":2.8e4,"c":2300,"m":4.1e5,"i":6.4e5,"o":1.86e6,"t":3.65e5},
{"d":"2021-01-19","b":2.8e4,"c":2400,"m":4.1e5,"i":6.4e5,"o":1.87e6,"t":3.65e5},
{"d":"2021-01-20","b":1.5e4,"c":1500,"m":2.0e5,"i":3.0e5,"o":1.2e6,"t":1.7e5},
{"d":"2021-01-21","b":2.8e4,"c":2300,"m":4.1e5,"i":6.4e5,"o":1.85e6,"t":3.65e5},
{"d":"2021-01-22","b":2.8e4,"c":2250,"m":4.1e5,"i":6.4e5,"o":1.87e6,"t":3.65e5},
{"d":"2021-01-23","b":1.6e4,"c":1300,"m":2.05e5,"i":3.3e5,"o":1.05e6,"t":1.55e5},
{"d":"2021-01-24","b":1.1e4,"c":1100,"m":1.2e5,"i":1.7e5,"o":7.0e5,"t":7e4},
{"d":"2021-01-25","b":2.8e4,"c":2300,"m":4.2e5,"i":6.5e5,"o":1.83e6,"t":3.7e5},
{"d":"2021-01-26","b":2.8e4,"c":2400,"m":4.2e5,"i":6.5e5,"o":1.85e6,"t":3.7e5},
{"d":"2021-01-27","b":2.8e4,"c":2350,"m":4.2e5,"i":6.5e5,"o":1.85e6,"t":3.7e5},
{"d":"2021-01-28","b":2.8e4,"c":2300,"m":4.2e5,"i":6.5e5,"o":1.85e6,"t":3.7e5},
{"d":"2021-01-29","b":2.8e4,"c":2250,"m":4.2e5,"i":6.5e5,"o":1.85e6,"t":3.7e5},
{"d":"2021-01-30","b":1.6e4,"c":1300,"m":2.1e5,"i":3.4e5,"o":1.1e6,"t":1.55e5},
{"d":"2021-01-31","b":1.1e4,"c":1100,"m":1.25e5,"i":1.8e5,"o":7.8e5,"t":7e4},
{"d":"2021-02-01","b":2.8e4,"c":2300,"m":4.2e5,"i":6.5e5,"o":1.9e6,"t":3.7e5},
{"d":"2021-02-02","b":2.8e4,"c":2400,"m":4.2e5,"i":6.5e5,"o":1.92e6,"t":3.7e5},
{"d":"2021-02-03","b":2.8e4,"c":2350,"m":4.2e5,"i":6.5e5,"o":1.93e6,"t":3.7e5},
{"d":"2021-02-04","b":2.8e4,"c":2300,"m":4.2e5,"i":6.5e5,"o":1.93e6,"t":3.7e5},
{"d":"2021-02-05","b":2.8e4,"c":2250,"m":4.2e5,"i":6.5e5,"o":1.93e6,"t":3.7e5},
{"d":"2021-02-06","b":1.6e4,"c":1300,"m":2.1e5,"i":3.4e5,"o":1.05e6,"t":1.55e5},
{"d":"2021-02-07","b":1.1e4,"c":1100,"m":1.25e5,"i":1.8e5,"o":7.2e5,"t":7e4},
{"d":"2021-02-08","b":2.8e4,"c":2300,"m":4.2e5,"i":6.5e5,"o":1.92e6,"t":3.7e5},
{"d":"2021-02-09","b":2.8e4,"c":2400,"m":4.2e5,"i":6.5e5,"o":1.94e6,"t":3.7e5},
{"d":"2021-02-10","b":2.8e4,"c":2350,"m":4.2e5,"i":6.5e5,"o":1.94e6,"t":3.7e5},
{"d":"2021-02-11","b":2.8e4,"c":2300,"m":4.2e5,"i":6.5e5,"o":1.94e6,"t":3.7e5},
{"d":"2021-02-12","b":2.8e4,"c":2250,"m":4.2e5,"i":6.5e5,"o":1.94e6,"t":3.7e5},
{"d":"2021-02-13","b":1.6e4,"c":1300,"m":2.1e5,"i":3.4e5,"o":1.05e6,"t":1.55e5},
{"d":"2021-02-14","b":1.1e4,"c":1100,"m":1.25e5,"i":1.8e5,"o":7.8e5,"t":7e4},
{"d":"2021-02-15","b":1.6e4,"c":1300,"m":2.2e5,"i":3.2e5,"o":1.2e6,"t":1.9e5},
{"d":"2021-02-16","b":1.4e4,"c":1200,"m":1.9e5,"i":2.7e5,"o":1.07e6,"t":1.6e5},
{"d":"2021-02-17","b":2.4e4,"c":2000,"m":3.4e5,"i":5.2e5,"o":1.75e6,"t":3.0e5},
{"d":"2021-02-18","b":2.8e4,"c":2300,"m":4.1e5,"i":6.4e5,"o":1.9e6,"t":3.65e5},
{"d":"2021-02-19","b":2.8e4,"c":2250,"m":4.1e5,"i":6.4e5,"o":1.9e6,"t":3.65e5},
{"d":"2021-02-20","b":1.6e4,"c":1300,"m":2.0e5,"i":3.3e5,"o":1.1e6,"t":1.5e5},
{"d":"2021-02-21","b":1.1e4,"c":1100,"m":1.2e5,"i":1.7e5,"o":7.7e5,"t":7e4},
{"d":"2021-02-22","b":2.8e4,"c":2300,"m":4.2e5,"i":6.6e5,"o":1.9e6,"t":3.7e5},
{"d":"2021-02-23","b":2.8e4,"c":2400,"m":4.2e5,"i":6.6e5,"o":1.93e6,"t":3.7e5},
{"d":"2021-02-24","b":2.8e4,"c":2350,"m":4.2e5,"i":6.6e5,"o":1.93e6,"t":3.7e5},
{"d":"2021-02-25","b":2.8e4,"c":2300,"m":4.2e5,"i":6.6e5,"o":1.93e6,"t":3.7e5},
{"d":"2021-02-26","b":2.8e4,"c":2250,"m":4.2e5,"i":6.6e5,"o":1.93e6,"t":3.7e5},
{"d":"2021-02-27","b":1.6e4,"c":1300,"m":2.1e5,"i":3.4e5,"o":1.05e6,"t":1.55e5},
{"d":"2021-02-28","b":1.1e4,"c":1100,"m":1.25e5,"i":1.8e5,"o":7.2e5,"t":7e4},
{"d":"2021-03-01","b":2.8e4,"c":2400,"m":4.2e5,"i":6.7e5,"o":1.93e6,"t":3.7e5},
{"d":"2021-03-02","b":2.8e4,"c":2500,"m":4.2e5,"i":6.7e5,"o":1.95e6,"t":3.7e5},
{"d":"2021-03-03","b":2.8e4,"c":2450,"m":4.2e5,"i":6.7e5,"o":1.96e6,"t":3.7e5},
{"d":"2021-03-04","b":2.8e4,"c":2400,"m":4.2e5,"i":6.7e5,"o":1.96e6,"t":3.7e5},
{"d":"2021-03-05","b":2.8e4,"c":2350,"m":4.2e5,"i":6.7e5,"o":1.96e6,"t":3.7e5},
{"d":"2021-03-06","b":1.6e4,"c":1400,"m":2.1e5,"i":3.4e5,"o":1.1e6,"t":1.55e5},
{"d":"2021-03-07","b":1.1e4,"c":1200,"m":1.25e5,"i":1.8e5,"o":7.5e5,"t":7e4},
{"d":"2021-03-08","b":2.8e4,"c":2400,"m":4.2e5,"i":6.7e5,"o":1.9e6,"t":3.7e5},
{"d":"2021-03-09","b":2.8e4,"c":2500,"m":4.2e5,"i":6.7e5,"o":1.92e6,"t":3.7e5},
{"d":"2021-03-10","b":2.8e4,"c":2450,"m":4.2e5,"i":6.7e5,"o":1.92e6,"t":3.7e5},
{"d":"2021-03-11","b":2.8e4,"c":2400,"m":4.2e5,"i":6.7e5,"o":1.92e6,"t":3.7e5},
{"d":"2021-03-12","b":2.8e4,"c":2350,"m":4.2e5,"i":6.7e5,"o":1.92e6,"t":3.7e5},
{"d":"2021-03-13","b":1.6e4,"c":1400,"m":2.1e5,"i":3.4e5,"o":1.1e6,"t":1.55e5},
{"d":"2021-03-14","b":1.1e4,"c":1200,"m":1.25e5,"i":1.8e5,"o":7.6e5,"t":7e4},
{"d":"2021-03-15","b":2.8e4,"c":2500,"m":4.15e5,"i":6.6e5,"o":1.87e6,"t":3.65e5},
{"d":"2021-03-16","b":2.8e4,"c":2600,"m":4.15e5,"i":6.6e5,"o":1.89e6,"t":3.65e5},
{"d":"2021-03-17","b":2.8e4,"c":2550,"m":4.15e5,"i":6.6e5,"o":1.89e6,"t":3.65e5},
{"d":"2021-03-18","b":2.8e4,"c":2500,"m":4.15e5,"i":6.6e5,"o":1.89e6,"t":3.65e5},
{"d":"2021-03-19","b":2.8e4,"c":2450,"m":4.15e5,"i":6.6e5,"o":1.88e6,"t":3.65e5},
{"d":"2021-03-20","b":1.6e4,"c":1400,"m":2.05e5,"i":3.3e5,"o":1.05e6,"t":1.5e5},
{"d":"2021-03-21","b":1.1e4,"c":1200,"m":1.2e5,"i":1.7e5,"o":7.2e5,"t":7e4},
{"d":"2021-03-22","b":2.8e4,"c":2500,"m":4.0e5,"i":6.5e5,"o":1.8e6,"t":3.5e5},
{"d":"2021-03-23","b":2.8e4,"c":2600,"m":4.0e5,"i":6.5e5,"o":1.82e6,"t":3.5e5},
{"d":"2021-03-24","b":2.8e4,"c":2550,"m":4.0e5,"i":6.5e5,"o":1.82e6,"t":3.5e5},
{"d":"2021-03-25","b":2.7e4,"c":2500,"m":3.9e5,"i":6.4e5,"o":1.8e6,"t":3.4e5},
{"d":"2021-03-26","b":1.4e4,"c":1800,"m":2.0e5,"i":3.0e5,"o":1.1e6,"t":1.7e5},
{"d":"2021-03-27","b":1.3e4,"c":1300,"m":1.6e5,"i":2.5e5,"o":8.5e5,"t":1.3e5},
{"d":"2021-03-28","b":1.0e4,"c":1100,"m":1.0e5,"i":1.4e5,"o":6.0e5,"t":6e4},
{"d":"2021-03-29","b":1.8e4,"c":2200,"m":2.3e5,"i":4.5e5,"o":1.25e6,"t":2.0e5},
{"d":"2021-03-30","b":1.8e4,"c":2300,"m":2.3e5,"i":4.6e5,"o":1.3e6,"t":2.0e5},
{"d":"2021-03-31","b":1.8e4,"c":2250,"m":2.3e5,"i":4.7e5,"o":1.33e6,"t":2.0e5},
{"d":"2021-04-01","b":1.8e4,"c":2200,"m":2.3e5,"i":4.6e5,"o":1.3e6,"t":2.0e5},
{"d":"2021-04-02","b":1.0e4,"c":1300,"m":1.1e5,"i":2.0e5,"o":7.0e5,"t":8e4},
{"d":"2021-04-03","b":1.1e4,"c":1200,"m":1.2e5,"i":2.0e5,"o":7.5e5,"t":9e4},
{"d":"2021-04-04","b":9e3,"c":1000,"m":8e4,"i":1.2e5,"o":6.5e5,"t":5e4},
{"d":"2021-04-05","b":2.6e4,"c":2300,"m":3.2e5,"i":6.2e5,"o":1.58e6,"t":2.7e5},
{"d":"2021-04-06","b":2.6e4,"c":2400,"m":3.35e5,"i":6.3e5,"o":1.62e6,"t":2.8e5},
{"d":"2021-04-07","b":2.6e4,"c":2350,"m":3.5e5,"i":6.4e5,"o":1.66e6,"t":2.9e5},
{"d":"2021-04-08","b":2.6e4,"c":2300,"m":3.6e5,"i":6.4e5,"o":1.7e6,"t":3.0e5},
{"d":"2021-04-09","b":2.6e4,"c":2250,"m":3.7e5,"i":6.5e5,"o":1.73e6,"t":3.1e5},
{"d":"2021-04-10","b":1.5e4,"c":1300,"m":1.8e5,"i":3.3e5,"o":9.5e5,"t":1.3e5},
{"d":"2021-04-11","b":1.0e4,"c":1100,"m":1.0e5,"i":1.5e5,"o":5.0e5,"t":6e4}
]},
"transform":[{"fold":["b","c","m","i","o","t"],"as":["k","v"]}],
"mark":{"type":"line","strokeWidth":1.1},
"encoding":{
"x":{"field":"d","type":"temporal","title":"Data",
"scale":{"type":"utc","domain":[{"year":2020,"month":2,"date":18,"utc":true},{"year":2021,"month":4,"date":27,"hours":8,"utc":true}]},
"axis":{"values":[{"year":2020,"month":4,"date":1,"utc":true},{"year":2020,"month":7,"date":1,"utc":true},{"year":2020,"month":10,"date":1,"utc":true},{"year":2021,"month":1,"date":1,"utc":true},{"year":2021,"month":4,"date":1,"utc":true}],
"labelExpr":"['jan','fev','mar','abr','mai','jun','jul','ago','set','out','nov','dez'][utcmonth(datum.value)] + ' ' + utcyear(datum.value)",
"grid":false,"domainColor":"#000000","tickColor":"#333333","tickSize":5,"labelFontSize":17,"labelColor":"#4d4d4d","labelPadding":4,"labelFlush":false,"labelOverlap":false,"titleFontSize":20,"titleFontWeight":"normal","titleColor":"#000000","titlePadding":4}},
"y":{"field":"v","type":"quantitative","title":"Modo de Transporte",
"scale":{"domain":[-147500,3097500],"nice":false,"zero":false},
"axis":{"values":[0,1000000,2000000,3000000],
"labelExpr":"datum.value == 0 ? '0e+00' : format(datum.value/1000000,'d') + 'e+06'",
"grid":false,"domainColor":"#000000","tickColor":"#333333","tickSize":5,"labelFontSize":17,"labelColor":"#4d4d4d","labelPadding":4,"titleFontSize":20,"titleFontWeight":"normal","titleColor":"#000000","titlePadding":6}},
"color":{"field":"k","type":"nominal",
"scale":{"domain":["b","m","o","c","i","t"],"range":["#F8766D","#00BA38","#619CFF","#B79F00","#00BFC4","#F564E3"]},
"legend":{"orient":"none","legendX":291,"legendY":-87,"direction":"horizontal","columns":3,"title":null,"padding":0,
"symbolType":"stroke","symbolSize":480,"symbolStrokeWidth":1.2,"labelFontSize":17,"labelColor":"#000000","labelOffset":18,"labelLimit":400,"columnPadding":15,"rowPadding":10,
"labelExpr":"datum.label == 'b' ? 'Barcas' : datum.label == 'c' ? 'Casos' : datum.label == 'm' ? 'Metrô' : datum.label == 'i' ? 'Ônibus Intermunicipais' : datum.label == 'o' ? 'Ônibus Municipais' : 'Trem'"}}
}
}
